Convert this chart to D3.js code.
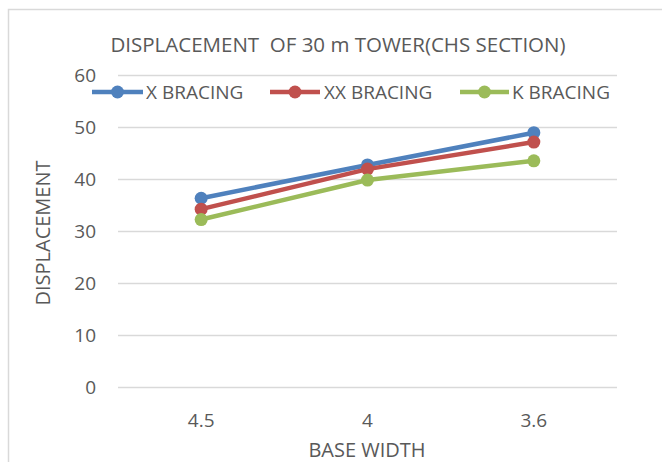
<!DOCTYPE html>
<html>
<head>
<meta charset="utf-8">
<script src="https://cdn.jsdelivr.net/npm/d3@7"></script>
<style>
  body { margin: 0; background: #fff; }
  text { font-family: "Open Sans", "Liberation Sans", sans-serif; fill: #595959; }
</style>
</head>
<body>
<div id="chart"></div>
<script>
// --- data ---
const baseWidths = ["4.5", "4", "3.6"];
const xBracing = [36.3, 42.7, 48.9];
const xxBracing = [34.2, 41.9, 47.1];
const kBracing = [32.2, 39.8, 43.5];
const yTicks = [0, 10, 20, 30, 40, 50, 60];

const series = [
  { name: "X BRACING", values: xBracing, color: "#4F81BD" },
  { name: "XX BRACING", values: xxBracing, color: "#C0504D" },
  { name: "K BRACING", values: kBracing, color: "#9BBB59" }
];

const W = 662, H = 462;
const plot = { left: 118, right: 617, top: 75, bottom: 387 };

const svg = d3.select("#chart").append("svg")
  .attr("width", W).attr("height", H);

// rand van de grafiek (rechts en onder afgesneden)
svg.append("rect")
  .attr("x", 8.5).attr("y", 9.5)
  .attr("width", W + 10).attr("height", H + 10)
  .attr("fill", "none").attr("stroke", "#d9d9d9").attr("stroke-width", 1.5);

const x = d3.scaleBand().domain(baseWidths).range([plot.left, plot.right]);
const y = d3.scaleLinear().domain([0, 60]).range([plot.bottom, plot.top]);

// rasterlijnen
svg.append("g")
  .attr("transform", `translate(${plot.left},0)`)
  .call(d3.axisLeft(y).tickValues(yTicks).tickSize(-(plot.right - plot.left)).tickFormat(""))
  .call(g => g.select(".domain").remove())
  .call(g => g.selectAll("line").attr("stroke", "#d9d9d9").attr("stroke-width", 1.3));

// y labels
svg.append("g")
  .attr("transform", `translate(${plot.left},0)`)
  .call(d3.axisLeft(y).tickValues(yTicks).tickSize(0).tickPadding(22))
  .call(g => g.select(".domain").remove())
  .call(g => g.selectAll("text").style("font-size", "19px").attr("fill", "#595959")
    .style("font-family", "'Open Sans', sans-serif"));

// x labels
svg.append("g")
  .attr("transform", `translate(0,${plot.bottom})`)
  .call(d3.axisBottom(x).tickSize(0).tickPadding(27))
  .call(g => g.select(".domain").remove())
  .call(g => g.selectAll("text").style("font-size", "19px").attr("fill", "#595959")
    .style("font-family", "'Open Sans', sans-serif"));

// lijnen + punten
const line = d3.line()
  .x((d, i) => x(baseWidths[i]) + x.bandwidth() / 2)
  .y(d => y(d));

series.forEach(s => {
  const g = svg.append("g");
  g.append("path")
    .datum(s.values)
    .attr("d", line)
    .attr("fill", "none")
    .attr("stroke", s.color)
    .attr("stroke-width", 4.5)
    .attr("stroke-linejoin", "round");
  g.selectAll("circle").data(s.values).enter().append("circle")
    .attr("cx", (d, i) => x(baseWidths[i]) + x.bandwidth() / 2)
    .attr("cy", d => y(d))
    .attr("r", 6.5)
    .attr("fill", s.color);
});

// titel
svg.append("text")
  .attr("x", 338).attr("y", 52)
  .attr("text-anchor", "middle")
  .style("font-size", "20.5px")
  .attr("xml:space", "preserve")
  .text("DISPLACEMENT  OF 30 m TOWER(CHS SECTION)");

// as-titels
svg.append("text")
  .attr("x", 367).attr("y", 457)
  .attr("text-anchor", "middle")
  .style("font-size", "20px")
  .text("BASE WIDTH");

svg.append("text")
  .attr("transform", "translate(50,233) rotate(-90)")
  .attr("text-anchor", "middle")
  .style("font-size", "20px")
  .text("DISPLACEMENT");

// legenda
const legendPos = [
  { x0: 92, x1: 143, tx: 146 },
  { x0: 270, x1: 320, tx: 324 },
  { x0: 460, x1: 509, tx: 512 }
];
const legendY = 92;
series.forEach((s, i) => {
  const p = legendPos[i];
  svg.append("line")
    .attr("x1", p.x0).attr("x2", p.x1)
    .attr("y1", legendY).attr("y2", legendY)
    .attr("stroke", s.color).attr("stroke-width", 4.5);
  svg.append("circle")
    .attr("cx", (p.x0 + p.x1) / 2).attr("cy", legendY)
    .attr("r", 6.5).attr("fill", s.color);
  svg.append("text")
    .attr("x", p.tx).attr("y", legendY + 7)
    .style("font-size", "19px")
    .text(s.name);
});
</script>
</body>
</html>
